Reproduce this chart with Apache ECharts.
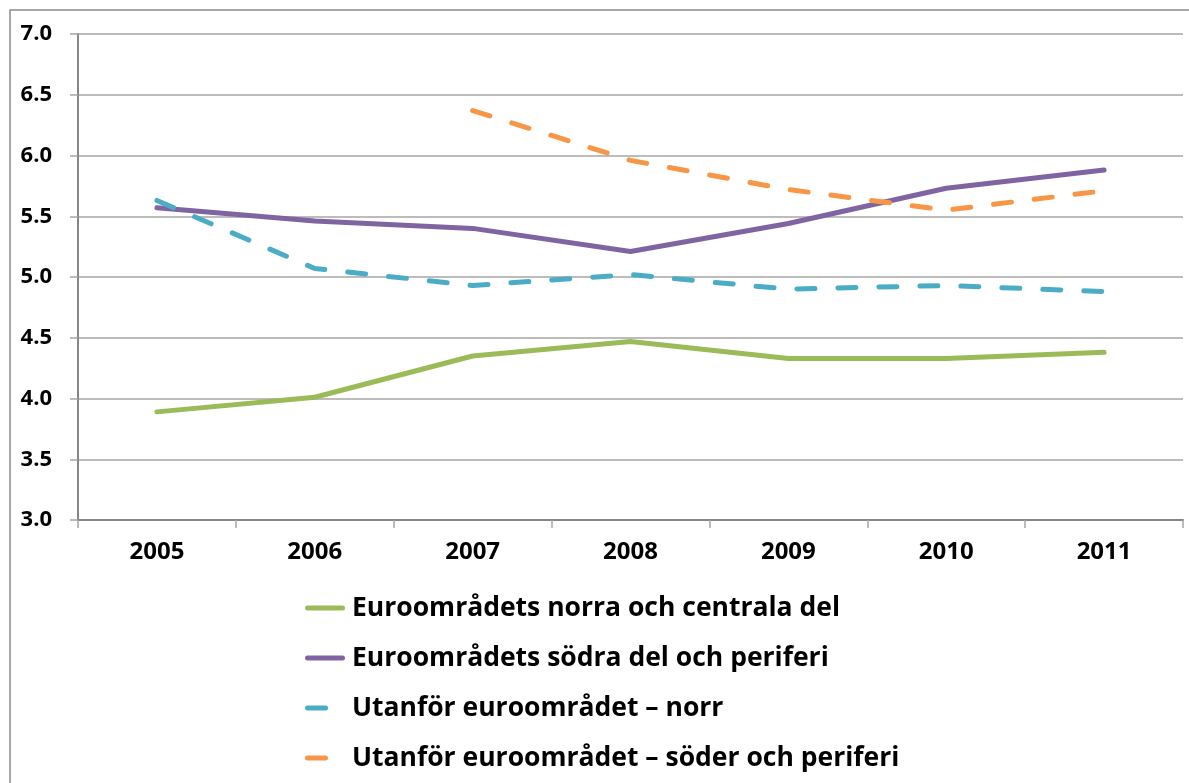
<!DOCTYPE html>
<html>
<head>
<meta charset="utf-8">
<script src="https://cdn.jsdelivr.net/npm/echarts@6/dist/echarts.min.js"></script>
<style>html,body{margin:0;padding:0;background:#fff}#c{width:1189px;height:783px}</style>
</head>
<body>
<div id="c"></div>
<script>
const categories = ['2005','2006','2007','2008','2009','2010','2011'];
const euroNorth = [3.89, 4.01, 4.35, 4.47, 4.33, 4.33, 4.38];
const euroSouth = [5.57, 5.46, 5.40, 5.21, 5.44, 5.73, 5.88];
const outNorth  = [5.63, 5.07, 4.93, 5.02, 4.90, 4.93, 4.88];
const outSouth  = [null, null, 6.37, 5.96, 5.72, 5.55, 5.71];
const names = ['Euroområdets norra och centrala del','Euroområdets södra del och periferi','Utanför euroområdet – norr','Utanför euroområdet – söder och periferi'];
const colors = ['#9BBB59','#8064A2','#4BACC6','#F79646'];
const font = '"Open Sans", "Noto Sans", sans-serif';
const solidIcon = 'path://M2.5,0h35a2.5,2.5 0 0 1 0,5h-35a2.5,2.5 0 0 1 0,-5z';
const dashIcon = 'path://M2.5,0h18a2.5,2.5 0 0 1 0,5h-18a2.5,2.5 0 0 1 0,-5zM40,2.5h0';

const chart = echarts.init(document.getElementById('c'));
function ser(i, data, dashed){
  return {
    name: names[i], type: 'line', data: data, symbol: 'none', smooth: false,
    lineStyle: {color: colors[i], width: 5, type: dashed ? [18, 23] : 'solid', cap: 'round', join: 'round'},
    itemStyle: {color: colors[i]},
    emphasis: {disabled: true}
  };
}
chart.setOption({
  animation: false,
  backgroundColor: '#fff',
  graphic: [{type: 'rect', shape: {x: 10, y: 10, width: 1300, height: 900}, style: {fill: 'none', stroke: '#8c8c8c', lineWidth: 1.5}, z: -1}],
  grid: {left: 78, right: 6, top: 34, bottom: 263, containLabel: false},
  xAxis: {
    type: 'category', data: categories, boundaryGap: true,
    axisLine: {lineStyle: {color: '#868686', width: 2}},
    axisTick: {show: true, length: 8, lineStyle: {color: '#a6a6a6', width: 1.5}},
    axisLabel: {fontFamily: font, fontWeight: 'bold', fontSize: 24, color: '#000', margin: 20}
  },
  yAxis: {
    type: 'value', min: 3, max: 7, interval: 0.5,
    axisLine: {show: true, lineStyle: {color: '#868686', width: 2}},
    axisTick: {show: true, length: 8, lineStyle: {color: '#a6a6a6', width: 1.5}},
    splitLine: {show: true, lineStyle: {color: '#a6a6a6', width: 1.5}},
    axisLabel: {fontFamily: font, fontWeight: 'bold', fontSize: 22, color: '#000', margin: 26, formatter: v => v.toFixed(1)}
  },
  legend: {
    orient: 'vertical', left: 300, top: 588,
    itemWidth: 40, itemHeight: 5, itemGap: 20,
    textStyle: {fontFamily: font, fontWeight: 'bold', fontSize: 26.5, color: '#000', lineHeight: 30, padding: [0,0,0,2]},
    data: [
      {name: names[0], icon: solidIcon},
      {name: names[1], icon: solidIcon},
      {name: names[2], icon: dashIcon},
      {name: names[3], icon: dashIcon}
    ]
  },
  series: [ser(0, euroNorth, false), ser(1, euroSouth, false), ser(2, outNorth, true), ser(3, outSouth, true)]
});
</script>
</body>
</html>
